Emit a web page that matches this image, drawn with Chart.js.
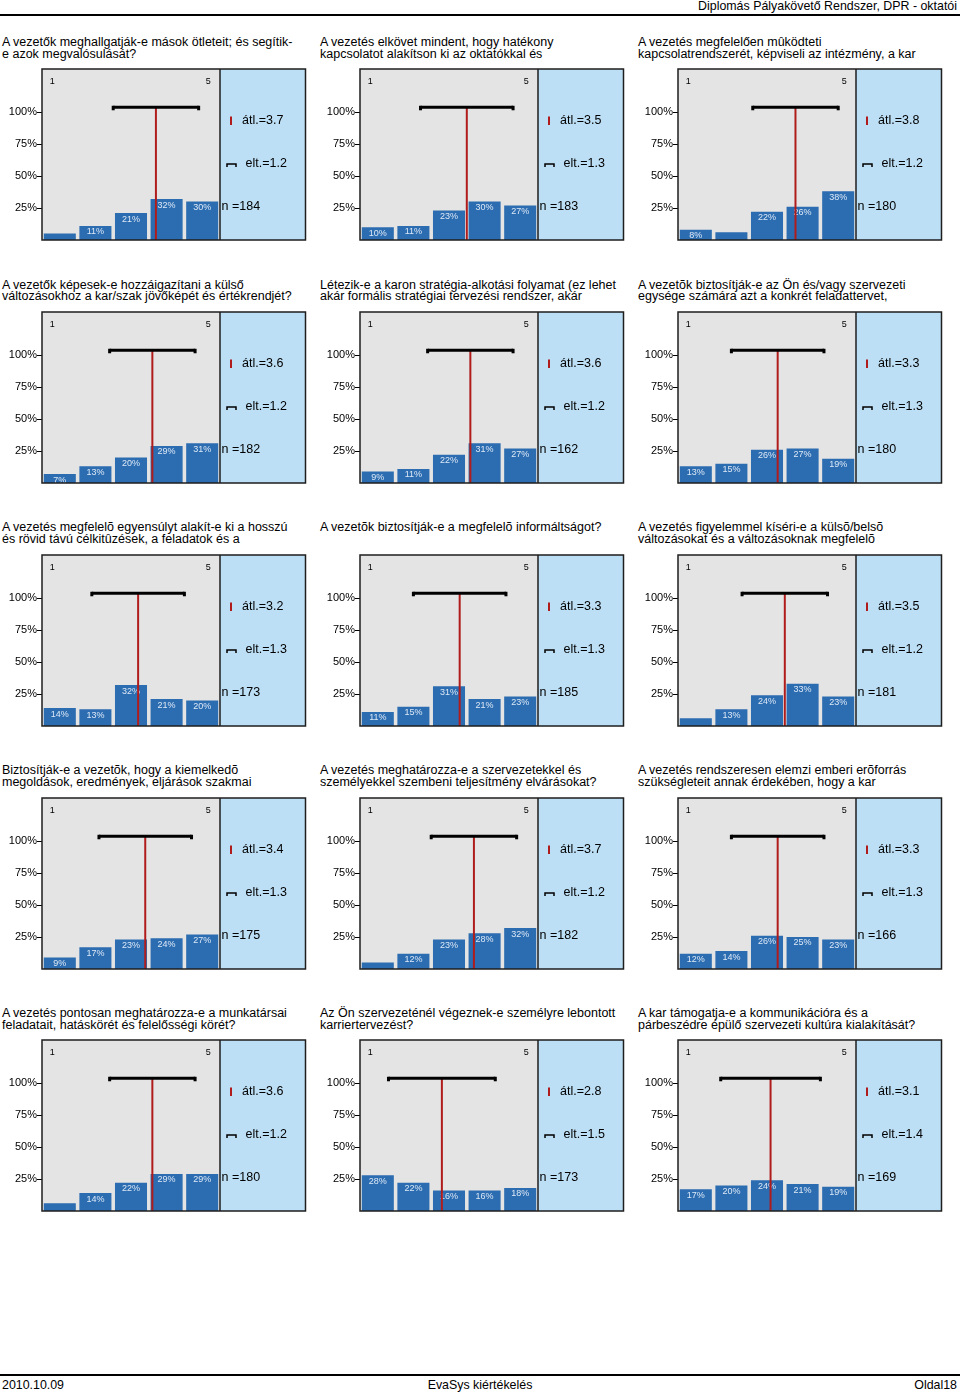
<!DOCTYPE html>
<html>
<head>
<meta charset="utf-8">
<script src="https://cdn.jsdelivr.net/npm/chart.js@4"></script>
<style>
   body { margin: 0; background: #fff; width: 960px; height: 1395px; position: relative; overflow: hidden;
      font-family: "Liberation Sans", Arial, sans-serif; color: #000; }
   .abs { position: absolute; }
   .title { font-size: 12.5px; line-height: 11.7px; white-space: pre; }
   .rule { position: absolute; left: 0; width: 960px; height: 2px; background: #000; }
   .foot { font-size: 12.4px; line-height: 14px; }
</style>
</head>
<body>
<div class="abs foot" style="right:3px;top:-1px;">Diplomás Pályakövető Rendszer, DPR - oktatói</div>
<div class="rule" style="top:14px;"></div>
<div class="rule" style="top:1374px;"></div>
<div class="abs foot" style="left:2px;top:1378px;">2010.10.09</div>
<div class="abs foot" style="left:0;width:960px;text-align:center;top:1378px;">EvaSys kiértékelés</div>
<div class="abs foot" style="right:3px;top:1378px;">Oldal18</div>
<div id="panels"></div>
<script>
// answer scale 1..5
const SCALE_LABELS = ["1", "2", "3", "4", "5"];
const Y_TICKS = [25, 50, 75, 100];

const TITLES = [
   ["A vezetők meghallgatják-e mások ötleteit; és segítik-", "e azok megvalósulását?"],
   ["A vezetés elkövet mindent, hogy hatékony", "kapcsolatot alakítson ki az oktatókkal és"],
   ["A vezetés megfelelően mûködteti", "kapcsolatrendszerét, képviseli az intézmény, a kar"],
   ["A vezetők képesek-e hozzáigazítani a külső", "változásokhoz a kar/szak jövőképét és értékrendjét?"],
   ["Létezik-e a karon stratégia-alkotási folyamat (ez lehet", "akár formális stratégiai tervezési rendszer, akár"],
   ["A vezetõk biztosítják-e az Ön és/vagy szervezeti", "egysége számára azt a konkrét feladattervet,"],
   ["A vezetés megfelelõ egyensúlyt alakít-e ki a hosszú", "és rövid távú célkitûzések, a feladatok és a"],
   ["A vezetõk biztosítják-e a megfelelõ informáltságot?", ""],
   ["A vezetés figyelemmel kíséri-e a külsõ/belsõ", "változásokat és a változásoknak megfelelõ"],
   ["Biztosítják-e a vezetõk, hogy a kiemelkedõ", "megoldások, eredmények, eljárások szakmai"],
   ["A vezetés meghatározza-e a szervezetekkel és", "személyekkel szembeni teljesítmény elvárásokat?"],
   ["A vezetés rendszeresen elemzi emberi erõforrás", "szükségleteit annak érdekében, hogy a kar"],
   ["A vezetés pontosan meghatározza-e a munkatársai", "feladatait, hatáskörét és felelősségi körét?"],
   ["Az Ön szervezeténél végeznek-e személyre lebontott", "karriertervezést?"],
   ["A kar támogatja-e a kommunikációra és a", "párbeszédre épülő szervezeti kultúra kialakítását?"],
];

// percent of answers per scale point
const DISTRIBUTIONS = [
   [5, 11, 21, 32, 30],
   [10, 11, 23, 30, 27],
   [8, 6, 22, 26, 38],
   [7, 13, 20, 29, 31],
   [9, 11, 22, 31, 27],
   [13, 15, 26, 27, 19],
   [14, 13, 32, 21, 20],
   [11, 15, 31, 21, 23],
   [6, 13, 24, 33, 23],
   [9, 17, 23, 24, 27],
   [5, 12, 23, 28, 32],
   [12, 14, 26, 25, 23],
   [6, 14, 22, 29, 29],
   [28, 22, 16, 16, 18],
   [17, 20, 24, 21, 19],
];
const MEANS = [3.7, 3.5, 3.8, 3.6, 3.6, 3.3, 3.2, 3.3, 3.5, 3.4, 3.7, 3.3, 3.6, 2.8, 3.1];
const DEVIATIONS = [1.2, 1.3, 1.2, 1.2, 1.2, 1.3, 1.3, 1.3, 1.2, 1.3, 1.2, 1.3, 1.2, 1.5, 1.4];
const COUNTS = [184, 183, 180, 182, 162, 180, 173, 185, 181, 175, 182, 166, 180, 173, 169];

const FONT = "'Liberation Sans', Arial, sans-serif";
const BAR_COLOR = "#2c6cb0";
const PLOT_BG = "#e4e4e4";
const SIDE_BG = "#bddff5";
const MEAN_COLOR = "#b01c1c";
const SIDE_W = 85.5;
const WHISKER_AT = 103.7;

const panelPlugin = {
   id: "panel",
   beforeDatasetsDraw(chart, args, opts) {
      const { ctx, chartArea: a } = chart;
      ctx.save();
      ctx.fillStyle = PLOT_BG;
      ctx.fillRect(a.left, a.top, a.right - a.left, a.bottom - a.top);
      ctx.fillStyle = SIDE_BG;
      ctx.fillRect(a.right, a.top, SIDE_W, a.bottom - a.top);
      ctx.restore();
   },
   afterDatasetsDraw(chart, args, opts) {
      const { ctx, chartArea: a, scales: { x, y } } = chart;
      const meta = chart.getDatasetMeta(0);
      const vals = chart.data.datasets[0].data;
      ctx.save();

      // percent labels in the bars
      ctx.font = `9px ${FONT}`;
      ctx.fillStyle = "#dce9f7";
      ctx.textAlign = "center";
      ctx.textBaseline = "middle";
      meta.data.forEach((bar, i) => {
         if (vals[i] >= 7) ctx.fillText(vals[i] + "%", bar.x, bar.y + 6);
      });

      // scale ends
      ctx.fillStyle = "#000";
      ctx.fillText(SCALE_LABELS[0], x.getPixelForValue(0) - 7.5, a.top + 12.5);
      ctx.fillText(SCALE_LABELS[4], x.getPixelForValue(4) + 6, a.top + 12.5);

      // mean and deviation
      const mx = x.getPixelForValue(opts.mean - 1);
      const wy = y.getPixelForValue(WHISKER_AT);
      const lo = x.getPixelForValue(Math.max(0, opts.mean - opts.sd - 1));
      const hi = x.getPixelForValue(Math.min(4, opts.mean + opts.sd - 1));
      ctx.strokeStyle = MEAN_COLOR;
      ctx.lineWidth = 2;
      ctx.beginPath();
      ctx.moveTo(mx, wy);
      ctx.lineTo(mx, a.bottom);
      ctx.stroke();
      ctx.strokeStyle = "#000";
      ctx.lineWidth = 3;
      ctx.beginPath();
      ctx.moveTo(lo, wy);
      ctx.lineTo(hi, wy);
      ctx.stroke();
      ctx.fillStyle = "#000";
      ctx.fillRect(lo - 1.5, wy - 1.5, 3, 4.5);
      ctx.fillRect(hi - 1.5, wy - 1.5, 3, 4.5);

      // frame
      ctx.strokeStyle = "#1e1e1e";
      ctx.lineWidth = 1.5;
      ctx.strokeRect(a.left, a.top, a.right - a.left + SIDE_W, a.bottom - a.top);
      ctx.beginPath();
      ctx.moveTo(a.right, a.top);
      ctx.lineTo(a.right, a.bottom);
      ctx.stroke();

      // side box
      const sx = a.right;
      ctx.strokeStyle = MEAN_COLOR;
      ctx.lineWidth = 2;
      ctx.beginPath();
      ctx.moveTo(sx + 11, a.top + 47.5);
      ctx.lineTo(sx + 11, a.top + 56);
      ctx.stroke();
      ctx.strokeStyle = "#000";
      ctx.lineWidth = 1.5;
      ctx.beginPath();
      ctx.moveTo(sx + 7, a.top + 98);
      ctx.lineTo(sx + 7, a.top + 95);
      ctx.lineTo(sx + 16, a.top + 95);
      ctx.lineTo(sx + 16, a.top + 98);
      ctx.stroke();

      ctx.font = `12.5px ${FONT}`;
      ctx.fillStyle = "#000";
      ctx.textAlign = "left";
      ctx.fillText("átl.=" + opts.mean.toFixed(1), sx + 22, a.top + 51.5);
      ctx.fillText("elt.=" + opts.sd.toFixed(1), sx + 25.5, a.top + 95);
      ctx.fillText("n =" + opts.n, sx + 1.5, a.top + 137.5);
      ctx.restore();
   },
};

const holder = document.getElementById("panels");

DISTRIBUTIONS.forEach((dist, i) => {
   const col = i % 3, row = Math.floor(i / 3);
   const colX = col * 318;
   const boxTop = 69.3 + row * 242.75;

   const t = document.createElement("div");
   t.className = "abs title";
   t.style.left = (colX + 2) + "px";
   t.style.top = (boxTop - 32.4) + "px";
   t.textContent = TITLES[i].join("\n");
   holder.appendChild(t);

   const c = document.createElement("canvas");
   c.width = 310;
   c.height = 185;
   c.className = "abs";
   c.style.left = colX + "px";
   c.style.top = (boxTop - 7) + "px";
   c.style.width = "310px";
   c.style.height = "185px";
   holder.appendChild(c);

   new Chart(c.getContext("2d"), {
      type: "bar",
      data: {
         labels: SCALE_LABELS,
         datasets: [{
            data: dist,
            backgroundColor: BAR_COLOR,
            borderWidth: 0,
            barPercentage: 0.9,
            categoryPercentage: 1,
         }],
      },
      options: {
         responsive: false,
         animation: false,
         devicePixelRatio: 1,
         layout: { padding: { top: 7, bottom: 7, left: 0, right: 310 - 220 } },
         plugins: {
            legend: { display: false },
            tooltip: { enabled: false },
            panel: { mean: MEANS[i], sd: DEVIATIONS[i], n: COUNTS[i] },
         },
         scales: {
            x: { display: false, offset: true },
            y: {
               min: 0,
               max: 133.6,
               afterFit: s => { s.width = 42; },
               afterBuildTicks: s => { s.ticks = Y_TICKS.map(v => ({ value: v })); },
               ticks: {
                  callback: v => v + "%",
                  color: "#000",
                  padding: 0,
                  font: { family: FONT, size: 11 },
               },
               grid: { drawOnChartArea: false, tickLength: 5, color: "#000", lineWidth: 1 },
               border: { display: false },
            },
         },
      },
      plugins: [panelPlugin],
   });
});
</script>
</body>
</html>
